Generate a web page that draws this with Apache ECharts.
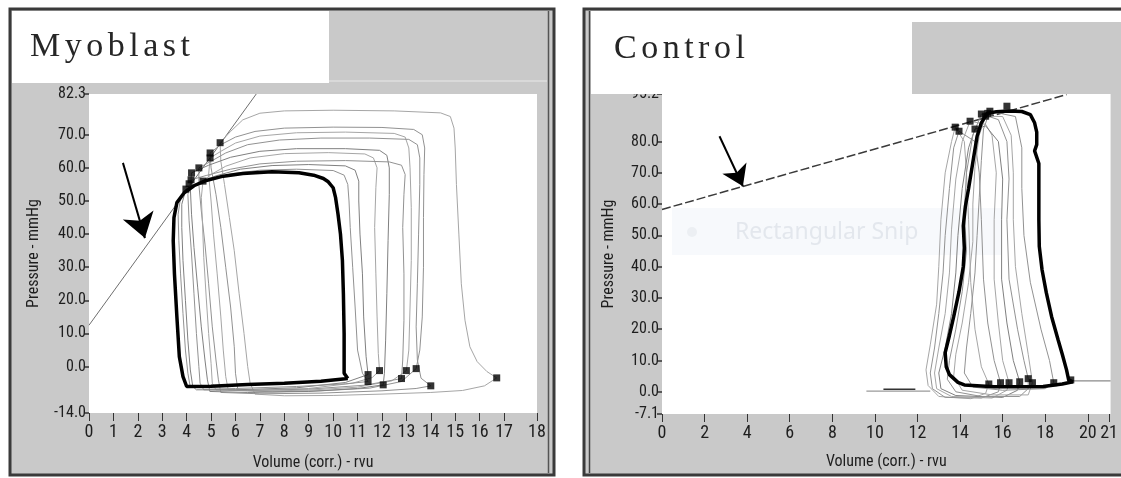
<!DOCTYPE html>
<html><head><meta charset="utf-8">
<script src="https://cdn.jsdelivr.net/npm/echarts@6/dist/echarts.min.js"></script>
<style>html,body{margin:0;padding:0;background:#fff}#c{width:1121px;height:478px}</style>
</head><body><div id="c"></div><script>
// ---------- tick labels ----------
const myoXTicks = [0,1,2,3,4,5,6,7,8,9,10,11,12,13,14,15,16,17,18.35];
const myoYTicks = [-14,0,10,20,30,40,50,60,70,82.3];
const ctlXTicks = [0,2,4,6,8,10,12,14,16,18,20,21];
const ctlYTicks = [-7.1,0,10,20,30,40,50,60,70,80,95.2];

// ---------- Myoblast ----------
const myoEspvr = [[0,12.5],[6.85,82.3]];
const myoArrow = [[1.39,61.5],[2.29,38.8]];
const myoThick = [[10.6,-3.6],[10.45,-2],[10.45,10],[10.42,22],[10.38,32],[10.3,40],[10.2,46],[10.1,51],[10.0,54],[9.8,55.8],[9.6,56.8],[9.2,57.8],[8.6,58.5],[7.5,58.8],[6.3,58.3],[5.5,57.5],[4.8,56.2],[4.3,54.6],[3.9,52.5],[3.6,49.5],[3.48,45],[3.45,38],[3.5,28],[3.6,15],[3.7,3],[3.85,-3],[4.0,-6],[5.0,-5.9],[6.5,-5.4],[8.0,-5.0],[9.5,-4.4],[10.6,-3.6]];
const myoLoop1 = [[16.7,-3.4],[16.3,-1.5],[15.9,1.5],[15.6,6],[15.4,14],[15.25,25],[15.15,40],[15.05,55],[15.0,66],[14.95,72],[14.8,75.5],[14.4,76.6],[12.5,77.2],[10,77.4],[8,77.2],[7,76.5],[6.3,74.5],[5.8,71],[5.37,67.6],[5.4,62],[5.55,55],[5.75,45],[5.95,35],[6.15,22],[6.35,10],[6.5,0],[6.6,-5],[6.8,-8.3],[8,-8.8],[10,-8.7],[12,-8.3],[14,-7.8],[15.3,-7.2],[16.2,-5.8],[16.7,-3.4]];
const myoLoop2 = [[13.4,-0.6],[13.55,5],[13.65,15],[13.7,30],[13.7,45],[13.72,58],[13.75,66],[13.65,70],[13.3,71.6],[12,72.2],[10,72.3],[8,72],[6.8,71],[6,69.3],[5.4,67],[4.96,64.5],[5.0,60],[5.2,52],[5.4,42],[5.6,30],[5.8,18],[5.95,6],[6.0,-2],[6.1,-7.2],[7.5,-7.6],[9.5,-7.3],[11.5,-6.5],[12.8,-4.5],[13.4,-0.6]];
const myoLoop3 = [[13.0,-1.2],[13.1,5],[13.15,18],[13.2,32],[13.2,48],[13.15,60],[13.1,66],[12.95,69.3],[12.5,70.4],[10.5,70.8],[8.5,70.6],[7,69.6],[6,67.5],[5.4,65],[4.96,63],[4.9,58],[5.0,50],[5.1,40],[5.25,28],[5.4,15],[5.5,5],[5.6,-3],[5.7,-7],[7,-7.4],[9,-7.1],[11,-6.2],[12.4,-4.3],[13.0,-1.2]];
const myoLoop4 = [[14.0,-5.8],[13.6,-3.5],[13.45,2],[13.4,12],[13.45,25],[13.5,40],[13.55,55],[13.55,63],[13.45,67],[13.1,68.6],[11.5,69],[9.5,69],[7.8,68.4],[6.5,67],[5.6,64.5],[5.0,62],[4.5,60],[4.5,55],[4.6,47],[4.75,37],[4.9,25],[5.05,12],[5.2,2],[5.3,-4],[5.4,-7.8],[7,-8.2],[9.5,-8],[12,-7.3],[13.4,-6.6],[14.0,-5.8]];
const myoLoop5 = [[12.05,-5.5],[12.1,-2],[12.15,8],[12.2,22],[12.25,38],[12.3,52],[12.3,60],[12.2,63.8],[11.9,65.3],[10.5,65.8],[8.5,65.8],[7,65],[5.8,63.2],[4.9,60.8],[4.2,58.5],[4.15,54],[4.2,46],[4.3,36],[4.45,24],[4.6,12],[4.75,2],[4.85,-4],[4.95,-7.5],[6.5,-7.8],[9,-7.5],[11,-6.6],[12.05,-5.5]];
const myoLoop6 = [[11.9,-1.2],[11.85,4],[11.8,15],[11.75,28],[11.7,42],[11.75,54],[11.8,60],[11.65,63],[11.3,64.2],[9.8,64.6],[8,64.3],[6.6,63],[5.6,60.5],[5.0,58],[4.67,56],[4.6,51],[4.65,43],[4.7,33],[4.8,21],[4.9,10],[5.0,1],[5.05,-5],[5.2,-7],[7,-7.1],[9,-6.6],[10.8,-5],[11.6,-3.3],[11.9,-1.2]];
const myoLoop7 = [[12.8,-3.6],[12.85,2],[12.9,14],[12.9,28],[12.85,42],[12.9,52],[12.95,58],[12.8,60.8],[12.3,61.8],[10.5,62.2],[8.5,62],[7,61.2],[5.8,59.6],[4.8,57.7],[4.18,56.4],[4.05,52],[4.1,44],[4.2,34],[4.3,22],[4.4,10],[4.5,0],[4.55,-5],[4.7,-7],[6.5,-7.2],[9,-6.8],[11.3,-5.6],[12.8,-3.6]];
const myoLoop8 = [[11.43,-2.4],[11.35,3],[11.25,15],[11.2,28],[11.1,40],[11.05,50],[11.05,56],[10.9,59.3],[10.5,60.6],[9,61],[7.5,60.7],[6.2,59.6],[5.2,57.6],[4.4,55.3],[3.97,53.6],[3.8,49],[3.8,42],[3.85,32],[3.95,20],[4.05,8],[4.15,-1],[4.25,-6],[4.4,-7],[6,-7],[8.5,-6.4],[10.5,-4.8],[11.43,-2.4]];
const myoLoop9 = [[11.43,-4.5],[11.2,-2],[11.0,5],[10.9,18],[10.8,30],[10.7,42],[10.65,50],[10.6,55],[10.45,57.8],[10.0,59.2],[8.5,59.6],[7,59.3],[5.8,58.2],[4.8,56.2],[4.1,54],[3.75,51],[3.65,46],[3.68,38],[3.75,28],[3.85,16],[3.95,5],[4.05,-2],[4.15,-6.3],[6,-6.6],[8.5,-6],[10.5,-5.2],[11.43,-4.5]];
const myoEsPoints = [[5.37,67.6],[4.96,64.5],[4.96,63],[4.5,60],[4.2,58.5],[4.18,56.4],[4.67,56],[3.97,53.6],[4.1,55.2]];
const myoEdPoints = [[16.7,-3.4],[14.0,-5.8],[13.4,-0.6],[13.0,-1.2],[12.8,-3.6],[12.05,-5.5],[11.9,-1.2],[11.43,-4.5],[11.43,-2.4]];

// ---------- Control ----------
const ctlEspvr = [[0,58.3],[19.0,95.0]];
const ctlArrow = [[2.7,81.7],[3.8,65.7]];
const ctlThick = [[19.3,3.2],[19.1,3.8],[19.0,7],[18.8,12],[18.6,16.7],[18.3,24],[18.05,31.7],[17.85,39],[17.72,46.5],[17.7,55],[17.7,65],[17.7,73],[17.5,77],[17.6,79],[17.6,83],[17.5,86],[17.3,88.6],[16.9,89.6],[16.3,89.8],[15.7,89.5],[15.26,89.0],[15.0,86],[14.8,81.7],[14.6,73.4],[14.4,65],[14.25,59.3],[14.15,53],[14.2,46],[14.15,40],[13.95,32],[13.7,24],[13.5,18],[13.3,12.5],[13.35,8],[13.5,5.5],[13.9,3],[14.2,2.2],[15.6,1.6],[17.0,1.6],[17.9,1.7],[18.8,2.5],[19.3,3.2]];
const ctlLoop1 = [[15.35,2.5],[15.2,-0.5],[14.5,-2.2],[13.0,-1.5],[12.5,2],[12.4,7],[12.6,15],[12.9,28],[13.0,40],[13.1,55],[13.3,70],[13.6,80],[13.77,84.6],[14.2,80],[14.3,70],[14.4,55],[14.5,35],[14.7,20],[15.0,8],[15.35,2.5]];
const ctlLoop2 = [[15.9,2.9],[15.8,0],[15.0,-2],[13.3,-1.8],[12.7,1],[12.6,6],[12.8,14],[13.0,25],[13.2,38],[13.3,50],[13.5,65],[13.7,78],[13.95,83.3],[14.7,80],[14.9,70],[15.0,55],[15.1,36],[15.3,22],[15.6,10],[15.9,2.9]];
const ctlLoop3 = [[16.3,2.9],[16.2,0.5],[15.5,-2],[13.6,-1.5],[12.9,1],[12.8,6],[13.0,14],[13.3,25],[13.5,38],[13.6,52],[13.8,68],[14.1,80],[14.47,86.5],[15.2,85.5],[15.5,82],[15.7,70],[15.6,55],[15.6,36],[15.8,22],[16.0,10],[16.3,2.9]];
const ctlLoop4 = [[16.8,3.2],[16.7,0.5],[16.0,-1.8],[13.8,-1.2],[13.1,1],[13.0,6],[13.3,14],[13.6,25],[13.8,38],[13.9,50],[14.1,65],[14.4,78],[14.7,84],[15.2,85],[15.8,80],[16.0,68],[15.95,55],[15.95,36],[16.2,22],[16.5,10],[16.8,3.2]];
const ctlLoop5 = [[17.2,4.2],[17.2,1],[16.8,-1.5],[15.0,-1.5],[13.8,0],[13.4,4],[13.5,10],[13.8,20],[14.1,32],[14.3,45],[14.2,58],[14.3,70],[14.6,82],[15.0,88.8],[15.8,87],[16.2,80],[16.3,68],[16.2,55],[16.3,36],[16.7,20],[17.0,10],[17.2,4.2]];
const ctlLoop6 = [[17.4,2.9],[17.2,-1],[15.5,-1],[14.1,0.5],[13.7,5],[13.8,12],[14.1,22],[14.4,35],[14.6,48],[14.6,60],[14.7,72],[14.9,82],[15.2,88.1],[16.0,88],[16.4,82],[16.5,70],[16.5,55],[16.6,40],[16.9,25],[17.2,12],[17.4,2.9]];
const ctlLoop7 = [[18.4,2.9],[18.0,1],[16.0,0.5],[14.6,1.5],[14.2,6],[14.3,14],[14.5,25],[14.7,38],[14.8,50],[14.9,62],[15.0,74],[15.1,84],[15.4,89.7],[16.6,88],[16.9,78],[16.9,65],[17.0,50],[17.3,35],[17.8,20],[18.2,10],[18.4,2.9]];
const ctlTailLeft = [[9.6,0.2],[12.6,0.2]];
const ctlTailLeftDark = [[10.4,0.8],[11.9,0.8]];
const ctlTailRight = [[19.3,3.5],[21.07,3.5]];
const ctlEsPoints = [[13.77,84.6],[13.95,83.3],[14.47,86.5],[14.7,84],[15.0,88.8],[15.2,88.1],[15.4,89.7],[16.2,91.3],[15.3,89.0]];
const ctlEdPoints = [[15.35,2.5],[15.9,2.9],[16.3,2.9],[16.8,3.2],[17.2,4.2],[17.4,2.9],[18.4,2.9],[19.2,3.8]];

// letter-spaced titles (canvas letterSpacing for the two panel titles)
(function(){
  const orig = CanvasRenderingContext2D.prototype.fillText;
  CanvasRenderingContext2D.prototype.fillText = function(t, x, y, m){
    if (t === 'Myoblast' || t === 'Control') {
      const prev = this.letterSpacing;
      this.letterSpacing = '4.5px';
      const r = (m === undefined) ? orig.call(this, t, x, y) : orig.call(this, t, x, y, m);
      this.letterSpacing = prev;
      return r;
    }
    return (m === undefined) ? orig.call(this, t, x, y) : orig.call(this, t, x, y, m);
  };
})();

const NARROW = '"Liberation Sans Narrow","Arial Narrow","Roboto Condensed","Liberation Sans",sans-serif';
const TXT = '#1e1e1e';

function loop(data, xi, color, width) {
  return { type: 'line', xAxisIndex: xi, yAxisIndex: xi, data: data, showSymbol: false, symbol: 'none',
    lineStyle: { color: color, width: width }, silent: true, z: width > 2 ? 4 : 3 };
}
function squares(data, xi) {
  return { type: 'scatter', xAxisIndex: xi, yAxisIndex: xi, data: data, symbol: 'rect', symbolSize: 7,
    itemStyle: { color: '#000' }, silent: true, z: 5 };
}
function arrow(coords, xi, size) {
  return { type: 'lines', coordinateSystem: 'cartesian2d', xAxisIndex: xi, yAxisIndex: xi,
    symbol: ['none', 'arrow'], symbolSize: size, silent: true, z: 6,
    lineStyle: { color: '#000', width: 2, opacity: 1, curveness: 0 },
    data: [{ coords: coords }] };
}
function xAxis(gi, max, ticks, gap) {
  return { gridIndex: gi, type: 'value', min: 0, max: max, position: 'bottom',
    axisLine: { show: false, onZero: false }, splitLine: { show: false },
    axisTick: { show: true, customValues: ticks, length: 8, lineStyle: { color: '#333', width: 1 } },
    axisLabel: { customValues: ticks, formatter: v => String(Math.round(v)), fontFamily: NARROW, fontSize: 18, color: TXT, margin: 10 },
    name: 'Volume (corr.) - rvu', nameLocation: 'middle', nameGap: gap,
    nameTextStyle: { fontFamily: NARROW, fontSize: 16, color: TXT } };
}
function yAxis(gi, min, max, ticks, gap) {
  return { gridIndex: gi, type: 'value', min: min, max: max, position: 'left',
    axisLine: { show: false, onZero: false }, splitLine: { show: false },
    axisTick: { show: true, customValues: ticks, length: 5, lineStyle: { color: '#333', width: 1.5 } },
    axisLabel: { customValues: ticks, formatter: v => v.toFixed(1), fontFamily: NARROW, fontSize: 16, color: TXT, margin: 3 },
    name: 'Pressure - mmHg', nameLocation: 'middle', nameGap: gap, nameRotate: 90,
    nameTextStyle: { fontFamily: NARROW, fontSize: 16, color: TXT } };
}

const G1 = '#929292', G2 = '#a6a6a6', G3 = '#808080';
const chart = echarts.init(document.getElementById('c'), null, { renderer: 'canvas' });
chart.setOption({
  animation: false,
  backgroundColor: '#ffffff',
  grid: [
    { left: 89, top: 94, width: 448, height: 319, show: true, backgroundColor: '#ffffff', borderWidth: 0 },
    { left: 662, top: 94, width: 453, height: 320, show: true, backgroundColor: '#ffffff', borderWidth: 0 }
  ],
  xAxis: [ xAxis(0, 18.35, myoXTicks, 42), xAxis(1, 21.07, ctlXTicks, 40) ],
  yAxis: [ yAxis(0, -14, 82.3, myoYTicks, 47), yAxis(1, -7.1, 95.2, ctlYTicks, 45) ],
  graphic: [
    { type: 'rect', z: -10, shape: { x: 10, y: 9, width: 544, height: 466 }, style: { fill: '#c9c9c9', stroke: '#3a3a3a', lineWidth: 3 } },
    { type: 'line', z: -9, shape: { x1: 548.5, y1: 11, x2: 548.5, y2: 473 }, style: { stroke: '#555', lineWidth: 1.5 } },
    { type: 'line', z: -9, shape: { x1: 329, y1: 81, x2: 547, y2: 81 }, style: { stroke: '#dedede', lineWidth: 1.5 } },
    { type: 'rect', z: 10, shape: { x: 12, y: 11, width: 317, height: 72 }, style: { fill: '#ffffff' } },
    { type: 'text', z: 11, x: 30, y: 47, style: { text: 'Myoblast', font: '34px "Liberation Serif","Times New Roman",serif', fill: '#262626', align: 'left', verticalAlign: 'middle' } },

    { type: 'rect', z: -10, shape: { x: 584, y: 9, width: 545, height: 466 }, style: { fill: '#c9c9c9', stroke: '#3a3a3a', lineWidth: 3 } },
    { type: 'line', z: -9, shape: { x1: 589.5, y1: 11, x2: 589.5, y2: 473 }, style: { stroke: '#444', lineWidth: 1.5 } },
    { type: 'rect', z: -9, shape: { x: 591, y: 11, width: 530, height: 11 }, style: { fill: '#ffffff' } },
    { type: 'rect', z: 10, shape: { x: 591, y: 22, width: 321, height: 72 }, style: { fill: '#ffffff' } },
    { type: 'text', z: 11, x: 614, y: 49, style: { text: 'Control', font: '34px "Liberation Serif","Times New Roman",serif', fill: '#262626', align: 'left', verticalAlign: 'middle' } },

    { type: 'rect', z: 1, shape: { x: 672, y: 208, width: 330, height: 47 }, style: { fill: '#f7f9fc' } },
    { type: 'circle', z: 1, shape: { cx: 692, cy: 232, r: 5 }, style: { fill: '#eceff3' } },
    { type: 'text', z: 1, x: 735, y: 232, style: { text: 'Rectangular Snip', font: '23px "Noto Sans","Open Sans",sans-serif', fill: '#e3e7ed', align: 'left', verticalAlign: 'middle' } }
  ],
  series: [
    loop(myoEspvr, 0, '#6e6e6e', 1),
    loop(myoLoop1, 0, G2, 1), loop(myoLoop2, 0, G1, 1), loop(myoLoop3, 0, G2, 1),
    loop(myoLoop4, 0, G1, 1), loop(myoLoop5, 0, G3, 1), loop(myoLoop6, 0, G2, 1),
    loop(myoLoop7, 0, G1, 1), loop(myoLoop8, 0, G3, 1), loop(myoLoop9, 0, G1, 1),
    loop(myoThick, 0, '#000', 3.5),
    squares(myoEsPoints, 0), squares(myoEdPoints, 0),
    arrow(myoArrow, 0, 24),

    { type: 'line', xAxisIndex: 1, yAxisIndex: 1, data: ctlEspvr, showSymbol: false, symbol: 'none', silent: true, z: 3,
      lineStyle: { color: '#3a3a3a', width: 1.5, type: [9, 3] } },
    loop(ctlTailLeft, 1, '#9a9a9a', 1.2), loop(ctlTailLeftDark, 1, '#333', 1.5), loop(ctlTailRight, 1, '#8a8a8a', 1.2),
    loop(ctlLoop1, 1, G2, 1), loop(ctlLoop2, 1, G1, 1), loop(ctlLoop3, 1, G2, 1),
    loop(ctlLoop4, 1, G3, 1), loop(ctlLoop5, 1, G1, 1), loop(ctlLoop6, 1, G2, 1), loop(ctlLoop7, 1, G1, 1),
    loop(ctlThick, 1, '#000', 3.5),
    squares(ctlEsPoints, 1), squares(ctlEdPoints, 1),
    arrow(ctlArrow, 1, 20)
  ]
});
</script></body></html>
